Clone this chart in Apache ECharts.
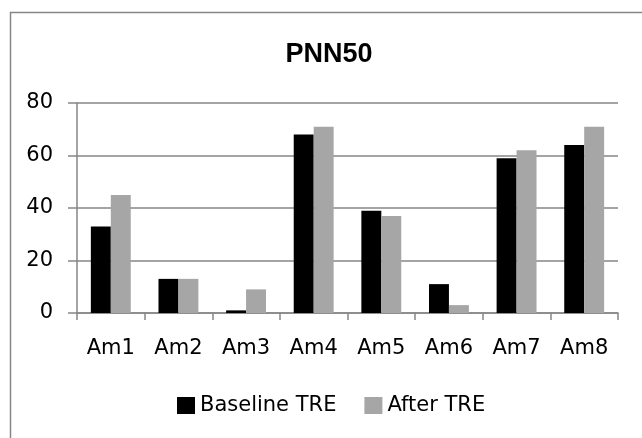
<!DOCTYPE html>
<html>
<head>
<meta charset="utf-8">
<script src="https://cdn.jsdelivr.net/npm/echarts@6/dist/echarts.min.js"></script>
<style>html,body{margin:0;padding:0;background:#fff}#c{width:642px;height:438px}</style>
</head>
<body>
<div id="c"></div>
<script>
var categories = ['Am1','Am2','Am3','Am4','Am5','Am6','Am7','Am8'];
var baselineTRE = [33, 13, 1, 68, 39, 11, 59, 64];
var afterTRE = [45, 13, 9, 71, 37, 3, 62, 71];
var yTicks = [0, 20, 40, 60, 80];

var chart = echarts.init(document.getElementById('c'), null, {renderer:'canvas'});
var font = 'DejaVu Sans';
chart.setOption({
  backgroundColor: '#fff',
  animation: false,
  graphic: [{
    type: 'rect', left: 8, top: 10,
    shape: {width: 700, height: 500},
    style: {fill: 'none', stroke: '#868686', lineWidth: 1.5},
    silent: true
  }],
  title: {
    text: 'PNN50', left: 324, top: 36, textAlign: 'center',
    textStyle: {fontFamily: 'Liberation Sans', fontWeight: 'bold', fontSize: 27, color: '#000'}
  },
  legend: {
    top: 395, left: 177, padding: 0,
    itemWidth: 18, itemHeight: 17, itemGap: 28,
    icon: 'rect',
    textStyle: {fontFamily: font, fontSize: 21, color: '#000'},
    data: ['Baseline TRE', 'After TRE']
  },
  grid: {left: 77, right: 24, top: 103, bottom: 125},
  xAxis: {
    type: 'category', data: categories,
    axisLine: {lineStyle: {color: '#868686', width: 1.5}},
    axisTick: {show: true, length: 7, lineStyle: {color: '#868686', width: 1.5}},
    axisLabel: {fontFamily: font, fontSize: 21, color: '#000', margin: 25}
  },
  yAxis: {
    type: 'value', min: yTicks[0], max: yTicks[yTicks.length-1], interval: 20,
    axisLine: {show: true, lineStyle: {color: '#868686', width: 1.5}},
    axisTick: {show: true, length: 9, lineStyle: {color: '#868686', width: 1.5}},
    splitLine: {lineStyle: {color: '#868686', width: 1.5}},
    axisLabel: {fontFamily: font, fontSize: 21, color: '#000', margin: 24}
  },
  series: [
    {name: 'Baseline TRE', type: 'bar', data: baselineTRE, itemStyle: {color: '#000000'}, barGap: '0%', barCategoryGap: '41%'},
    {name: 'After TRE', type: 'bar', data: afterTRE, itemStyle: {color: '#a6a6a6'}, barGap: '0%', barCategoryGap: '41%'}
  ]
});
</script>
</body>
</html>
